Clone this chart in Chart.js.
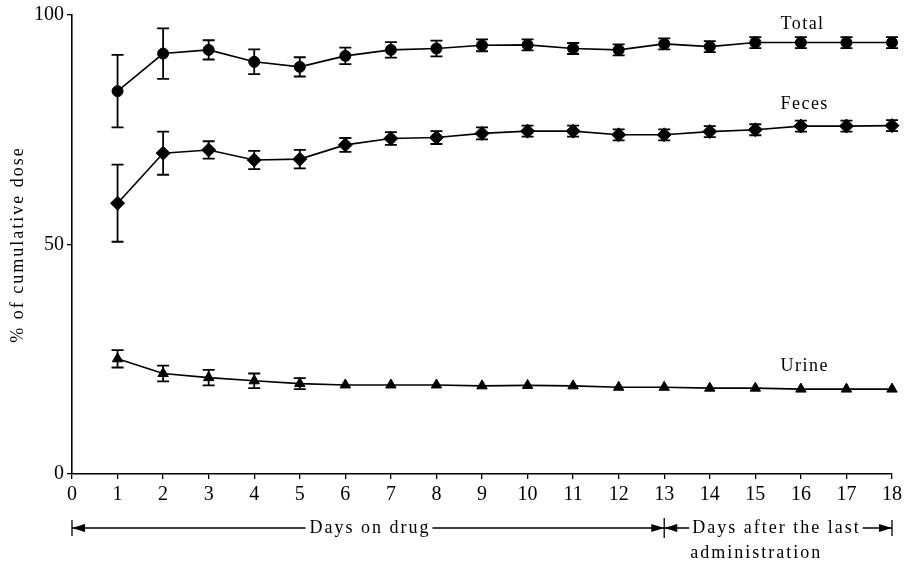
<!DOCTYPE html>
<html>
<head>
<meta charset="utf-8">
<script src="https://cdn.jsdelivr.net/npm/chart.js@4.4.1/dist/chart.umd.min.js"></script>
<style>
  html, body { margin: 0; padding: 0; background: #fff; }
  #chart { display: block; }
</style>
</head>
<body>
<canvas id="chart" width="906" height="566"></canvas>
<script>
// values (% of cumulative dose, mean and error bar half-length)
const days = [1, 2, 3, 4, 5, 6, 7, 8, 9, 10, 11, 12, 13, 14, 15, 16, 17, 18];
const totalMean = [83.4, 91.6, 92.4, 89.8, 88.7, 91.1, 92.4, 92.7, 93.4, 93.5, 92.7, 92.4, 93.7, 93.1, 94.0, 94.0, 94.0, 94.0];
const totalErr  = [7.9, 5.5, 2.1, 2.7, 2.1, 1.8, 1.7, 1.7, 1.3, 1.2, 1.2, 1.2, 1.2, 1.2, 1.2, 1.2, 1.2, 1.2];
const fecesMean = [59.0, 69.9, 70.6, 68.4, 68.6, 71.7, 73.1, 73.3, 74.2, 74.7, 74.7, 73.9, 73.9, 74.6, 75.0, 75.8, 75.8, 75.9];
const fecesErr  = [8.4, 4.7, 1.9, 2.0, 2.0, 1.5, 1.4, 1.4, 1.3, 1.2, 1.2, 1.2, 1.2, 1.2, 1.2, 1.2, 1.2, 1.2];
const urineMean = [25.1, 21.9, 21.0, 20.3, 19.7, 19.4, 19.4, 19.4, 19.2, 19.3, 19.2, 18.9, 18.9, 18.7, 18.7, 18.5, 18.5, 18.5];
const urineErr  = [1.9, 1.7, 1.7, 1.6, 1.2, 0, 0, 0, 0, 0, 0, 0, 0, 0, 0, 0, 0, 0];
const seriesNames = ['Total', 'Feces', 'Urine'];
const yTitle = '% of cumulative dose';
const periodOn = 'Days on drug';
const periodAfter = ['Days after the last', 'administration'];
const lastDrugDay = 13;

const FONT = '"Liberation Serif", "DejaVu Serif", serif';

function pts(mean) {
  return days.map((d, i) => ({ x: d, y: mean[i] }));
}

function series(label, mean, err, style, radius) {
  return {
    label: label,
    data: pts(mean),
    errors: err,
    borderColor: '#000',
    backgroundColor: '#000',
    borderWidth: 1.6,
    pointStyle: style,
    pointRadius: radius,
    pointBorderWidth: 1,
    pointBorderColor: '#000',
    pointBackgroundColor: '#000',
    tension: 0,
    clip: false
  };
}

const errorBars = {
  id: 'errorBars',
  beforeDatasetsDraw(chart) {
    const { ctx, scales: { x, y } } = chart;
    ctx.save();
    ctx.strokeStyle = '#000';
    ctx.lineWidth = 1.8;
    chart.data.datasets.forEach(ds => {
      ds.data.forEach((p, i) => {
        const e = ds.errors[i];
        if (!e) return;
        const px = x.getPixelForValue(p.x);
        const top = y.getPixelForValue(p.y + e);
        const bot = y.getPixelForValue(p.y - e);
        ctx.beginPath();
        ctx.moveTo(px, top); ctx.lineTo(px, bot);
        ctx.moveTo(px - 6, top); ctx.lineTo(px + 6, top);
        ctx.moveTo(px - 6, bot); ctx.lineTo(px + 6, bot);
        ctx.stroke();
      });
    });
    ctx.restore();
  }
};

function arrowHead(ctx, tipX, y, dir) {
  // dir = -1 points left, +1 points right
  ctx.beginPath();
  ctx.moveTo(tipX, y);
  ctx.lineTo(tipX - dir * 13, y - 4);
  ctx.lineTo(tipX - dir * 13, y + 4);
  ctx.closePath();
  ctx.fill();
}

const annotations = {
  id: 'annotations',
  afterDraw(chart) {
    const { ctx, scales: { x, y } } = chart;
    ctx.save();
    ctx.fillStyle = '#000';
    ctx.strokeStyle = '#000';

    // series labels
    ctx.font = '18px ' + FONT;
    ctx.letterSpacing = '1.5px';
    ctx.textAlign = 'left';
    ctx.textBaseline = 'middle';
    const lx = x.getPixelForValue(15.55);
    ctx.fillText(seriesNames[0], lx, y.getPixelForValue(98.0));
    ctx.fillText(seriesNames[1], lx, y.getPixelForValue(80.6));
    ctx.fillText(seriesNames[2], lx, y.getPixelForValue(23.4));

    // y title
    ctx.save();
    ctx.translate(18, (chart.chartArea.top + chart.chartArea.bottom) / 2);
    ctx.rotate(-Math.PI / 2);
    ctx.textAlign = 'center';
    ctx.letterSpacing = '2px';
    ctx.fillText(yTitle, 0, 0);
    ctx.restore();

    // period arrows under the axis
    const x0 = x.getPixelForValue(0);
    const x13 = x.getPixelForValue(lastDrugDay);
    const x18 = x.getPixelForValue(18);
    const ay = 528;
    ctx.lineWidth = 1.3;
    ctx.letterSpacing = '2px';
    ctx.font = '18px ' + FONT;

    const t1 = ctx.measureText(periodOn).width;
    const c1 = 370;
    ctx.textAlign = 'center';
    ctx.fillText(periodOn, c1, ay);
    const t2 = ctx.measureText(periodAfter[0]).width;
    const s2 = x13 + 28;
    ctx.textAlign = 'left';
    ctx.fillText(periodAfter[0], s2, ay);
    ctx.fillText(periodAfter[1], s2 - 2, ay + 25);

    ctx.beginPath();
    ctx.moveTo(x0, ay - 8); ctx.lineTo(x0, ay + 8);
    ctx.moveTo(x13, ay - 10); ctx.lineTo(x13, ay + 10);
    ctx.moveTo(x18, ay - 8); ctx.lineTo(x18, ay + 8);
    ctx.moveTo(x0, ay); ctx.lineTo(c1 - t1 / 2 - 4, ay);
    ctx.moveTo(c1 + t1 / 2 + 2, ay); ctx.lineTo(x13, ay);
    ctx.moveTo(x13, ay); ctx.lineTo(s2 - 3, ay);
    ctx.moveTo(s2 + t2 + 2, ay); ctx.lineTo(x18, ay);
    ctx.stroke();
    arrowHead(ctx, x0, ay, -1);
    arrowHead(ctx, x13, ay, 1);
    arrowHead(ctx, x13, ay, -1);
    arrowHead(ctx, x18, ay, 1);
    ctx.restore();
  }
};

const ctx = document.getElementById('chart');

new Chart(ctx, {
  type: 'line',
  data: {
    datasets: [
      series(seriesNames[0], totalMean, totalErr, 'circle', 5.5),
      series(seriesNames[1], fecesMean, fecesErr, 'rectRot', 7),
      series(seriesNames[2], urineMean, urineErr, 'triangle', 6)
    ]
  },
  options: {
    responsive: false,
    animation: false,
    layout: { padding: { top: 15, right: 11, left: 0, bottom: 0 } },
    plugins: {
      legend: { display: false },
      tooltip: { enabled: false }
    },
    scales: {
      x: {
        type: 'linear',
        min: 0,
        max: 18,
        afterFit(scale) { scale.height = 92; },
        ticks: {
          stepSize: 1,
          color: '#000',
          padding: 4,
          maxRotation: 0,
          font: { family: FONT, size: 20 }
        },
        grid: { drawOnChartArea: false, tickLength: 5, color: '#000', lineWidth: 1.3 },
        border: { display: true, color: '#000', width: 1.6 }
      },
      y: {
        min: 0,
        max: 100,
        afterFit(scale) { scale.width = 72; },
        ticks: {
          stepSize: 50,
          color: '#000',
          padding: 3,
          font: { family: FONT, size: 20 }
        },
        grid: { drawOnChartArea: false, tickLength: 5, color: '#000', lineWidth: 1.3 },
        border: { display: true, color: '#000', width: 1.6 }
      }
    }
  },
  plugins: [errorBars, annotations]
});
</script>
</body>
</html>
